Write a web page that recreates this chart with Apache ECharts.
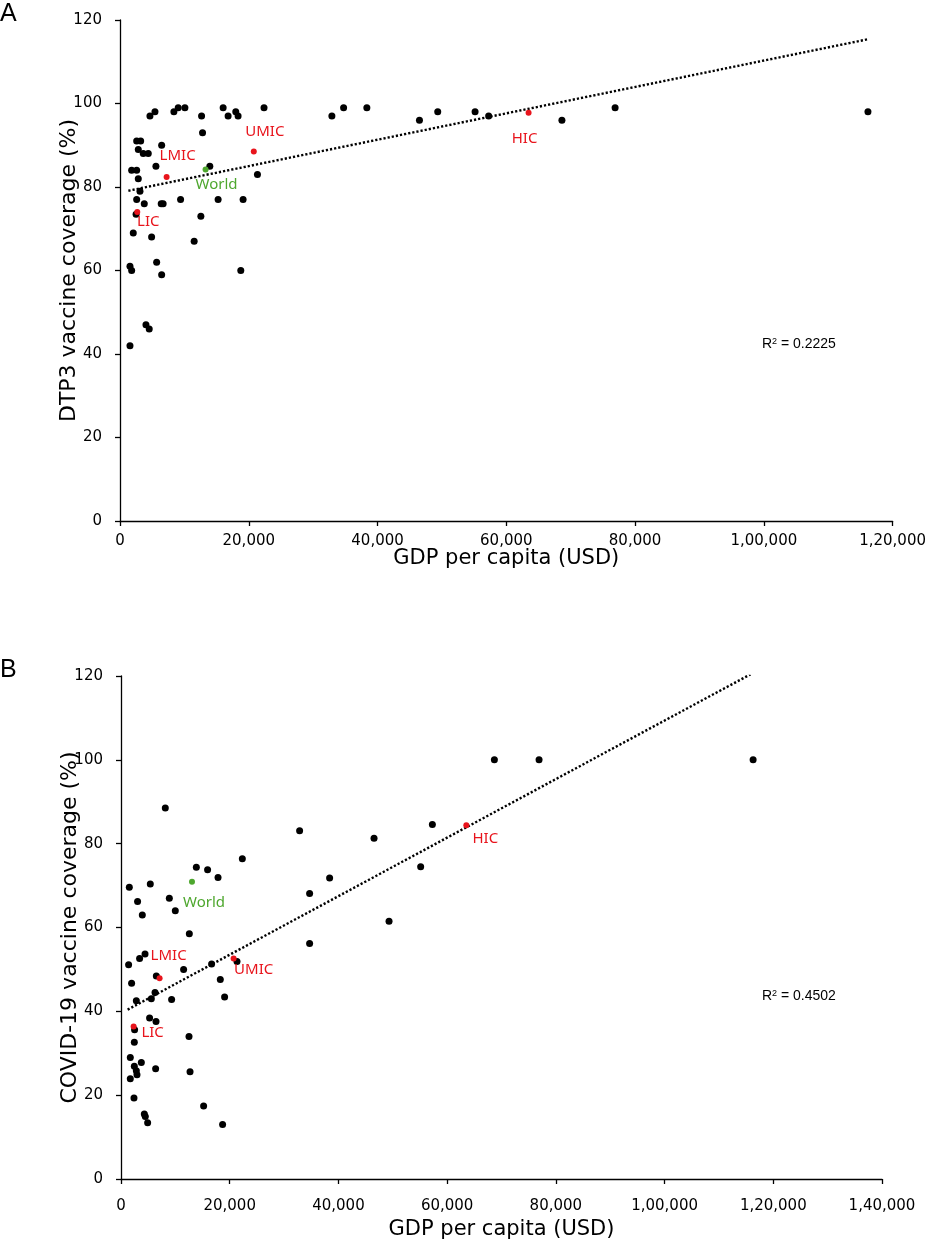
<!DOCTYPE html>
<html>
<head>
<meta charset="utf-8">
<script src="https://cdn.jsdelivr.net/npm/echarts@6/dist/echarts.min.js"></script>
<style>
  html, body { margin: 0; padding: 0; background: #fff; }
  #chart { width: 929px; height: 1244px; }
</style>
</head>
<body>
<div id="chart"></div>
<script>
// panel A: DTP3 coverage vs GDP per capita (country points)
const dtpGdp = [4650, 5430, 8370, 9040, 10080, 12670, 16020, 16790, 17980, 18340, 22370,
  12820, 2590, 3210, 6470, 2840, 3610, 4390, 5580, 1810, 2590, 2840, 13950, 21350, 3100,
  2590, 3770, 6400, 6700, 9410, 15240, 19120,
  2500, 12560, 2060, 4910, 11520, 5690, 1550, 1810, 6470, 18760, 4030, 4540, 1550,
  32910, 34730, 38340, 46510, 49350, 55150, 57260, 68640, 76900, 116170];
const dtpCov = [97, 98, 98, 99, 99, 97, 99, 97, 98, 97, 99,
  93, 91, 91, 90, 89, 88, 88, 85, 84, 84, 82, 85, 83, 79,
  77, 76, 76, 76, 77, 77, 77,
  73.5, 73, 69, 68, 67, 62, 61, 60, 59, 60, 47, 46, 42,
  97, 99, 99, 96, 98, 98, 97, 96, 99, 98];

// panel B: COVID-19 coverage vs GDP per capita
const covGdp = [22320, 13860, 15930, 17850, 1530, 5390, 8890, 3050, 9990, 3920, 12570,
  1400, 3420, 4420, 11520, 16670, 6500, 18270, 21340, 1950, 6260, 5580, 2820, 9310, 19060,
  5260, 6440, 2500, 12510, 2450, 1710, 2450, 3740, 2820, 2940, 6370, 1710, 12700, 2390,
  4290, 4470, 4900, 15200, 18690,
  32860, 46550, 38380, 34700, 49310, 34700, 57280, 55130, 68690, 76910, 116290, 8150];
const covCov = [76.4, 74.4, 73.8, 71.9, 69.6, 70.4, 67.0, 66.2, 64.0, 63.0, 58.5,
  51.1, 52.6, 53.7, 50.0, 51.3, 48.4, 47.6, 51.9, 46.7, 44.5, 43.0, 42.5, 42.8, 43.4,
  38.4, 37.6, 35.6, 34.0, 32.6, 29.0, 26.9, 27.8, 25.8, 24.9, 26.3, 23.9, 25.6, 19.3,
  15.5, 14.9, 13.4, 17.4, 13.0,
  83.1, 81.3, 71.8, 68.1, 61.5, 56.2, 84.6, 74.5, 100, 100, 100, 88.5];

// income groups + world
const groupNames = ['LIC', 'LMIC', 'UMIC', 'HIC', 'World'];
const dtpGroupGdp = [2680, 7240, 20780, 63460, 13290];
const dtpGroupCov = [74.0, 82.4, 88.5, 97.8, 84.2];
const covGroupGdp = [2320, 7100, 20720, 63530, 13060];
const covGroupCov = [36.4, 47.9, 52.6, 84.4, 70.9];

// linear trendlines (end points)
const dtpTrendGdp = [1300, 116200];
const dtpTrendCov = [79.1, 115.4];
const covTrendGdp = [1220, 115800];
const covTrendCov = [40.4, 120.4];

const r2Labels = ['0.2225', '0.4502'];
const panelLetters = ['A', 'B'];

const RED = '#e8141c';
const GREEN = '#4ea72e';
const tickFont = 'DejaVu Sans';
const labelFont = 'Noto Sans';

// label offsets from each group's dot, [panelA, panelB]
const labelOffsets = {
  LIC: [[11, 10], [19, 6]],
  LMIC: [[11, -21], [9, -22]],
  UMIC: [[11, -20], [20, 11]],
  HIC: [[-4, 26], [19, 14]],
  World: [[11, 15], [12, 21]]
};

// 100000 -> "1,00,000"
function indianFmt(v) {
  let s = String(Math.round(v));
  if (s.length <= 3) return s;
  let last3 = s.slice(-3);
  let rest = s.slice(0, -3);
  rest = rest.replace(/\B(?=(\d{2})+(?!\d))/g, ',');
  return rest + ',' + last3;
}

const zip = (xs, ys) => xs.map((x, i) => [x, ys[i]]);

function xAxisCfg(grid, max, margin, nameGap) {
  return {
    gridIndex: grid, type: 'value', min: 0, max: max, interval: 20000,
    name: 'GDP per capita (USD)', nameLocation: 'middle', nameGap: nameGap,
    nameMoveOverlap: false,
    nameTextStyle: { fontFamily: tickFont, fontSize: 21, color: '#000' },
    axisLine: { show: true, onZero: false, lineStyle: { color: '#000', width: 1.3 } },
    axisTick: { show: true, length: 5, lineStyle: { color: '#000', width: 1.3 } },
    axisLabel: { fontFamily: tickFont, fontSize: 15, color: '#000', margin: margin, formatter: indianFmt },
    splitLine: { show: false }
  };
}

function yAxisCfg(grid, name) {
  return {
    gridIndex: grid, type: 'value', min: 0, max: 120, interval: 20,
    name: name, nameLocation: 'middle', nameGap: 40,
    nameMoveOverlap: false,
    nameTextStyle: { fontFamily: tickFont, fontSize: 22, color: '#000' },
    axisLine: { show: true, onZero: false, lineStyle: { color: '#000', width: 1.3 } },
    axisTick: { show: true, length: 5, lineStyle: { color: '#000', width: 1.3 } },
    axisLabel: { fontFamily: tickFont, fontSize: 15, color: '#000', margin: 18 },
    splitLine: { show: false }
  };
}

function groupSeries(axis, panel, gdp, cov) {
  return groupNames.map((g, i) => ({
    type: 'scatter', xAxisIndex: axis, yAxisIndex: axis,
    symbolSize: 6, z: 5,
    itemStyle: { color: g === 'World' ? GREEN : RED, opacity: 1 },
    data: [[gdp[i], cov[i]]],
    label: {
      show: true, position: 'inside', offset: labelOffsets[g][panel],
      formatter: g, color: g === 'World' ? GREEN : RED,
      fontFamily: labelFont, fontSize: 15
    }
  }));
}

const chart = echarts.init(document.getElementById('chart'), null, { renderer: 'canvas' });

chart.setOption({
  animation: false,
  backgroundColor: '#fff',
  grid: [
    { left: 120, top: 20, width: 774, height: 501 },
    { left: 121, top: 676, width: 761, height: 503 }
  ],
  xAxis: [xAxisCfg(0, 120000, 13, 27), xAxisCfg(1, 140000, 20, 40)],
  yAxis: [yAxisCfg(0, 'DTP3 vaccine coverage (%)'), yAxisCfg(1, 'COVID-19 vaccine coverage (%)')],
  series: [
    {
      type: 'scatter', xAxisIndex: 0, yAxisIndex: 0, symbolSize: 7,
      itemStyle: { color: '#000', opacity: 1 }, data: zip(dtpGdp, dtpCov)
    },
    {
      type: 'line', xAxisIndex: 0, yAxisIndex: 0, showSymbol: false, z: 3,
      lineStyle: { color: '#000', width: 2.4, type: [2.2, 2] },
      data: zip(dtpTrendGdp, dtpTrendCov)
    },
    ...groupSeries(0, 0, dtpGroupGdp, dtpGroupCov),
    {
      type: 'scatter', xAxisIndex: 1, yAxisIndex: 1, symbolSize: 7,
      itemStyle: { color: '#000', opacity: 1 }, data: zip(covGdp, covCov)
    },
    {
      type: 'line', xAxisIndex: 1, yAxisIndex: 1, showSymbol: false, z: 3,
      lineStyle: { color: '#000', width: 2.4, type: [2.2, 2] },
      data: zip(covTrendGdp, covTrendCov)
    },
    ...groupSeries(1, 1, covGroupGdp, covGroupCov)
  ],
  graphic: [
    { type: 'text', left: 0, top: 2, style: { text: panelLetters[0], font: '25px "Liberation Sans"', fill: '#000' } },
    { type: 'text', left: 0, top: 658, style: { text: panelLetters[1], font: '25px "Liberation Sans"', fill: '#000' } },
    {
      type: 'text', left: 762, top: 337,
      style: {
        text: 'R{s|2} = ' + r2Labels[0], fill: '#000', font: '14px "Liberation Sans"',
        rich: { s: { fontSize: 9, verticalAlign: 'top', padding: [0, 0, 6, 0] } }
      }
    },
    {
      type: 'text', left: 762, top: 989,
      style: {
        text: 'R{s|2} = ' + r2Labels[1], fill: '#000', font: '14px "Liberation Sans"',
        rich: { s: { fontSize: 9, verticalAlign: 'top', padding: [0, 0, 6, 0] } }
      }
    }
  ]
});
</script>
</body>
</html>
